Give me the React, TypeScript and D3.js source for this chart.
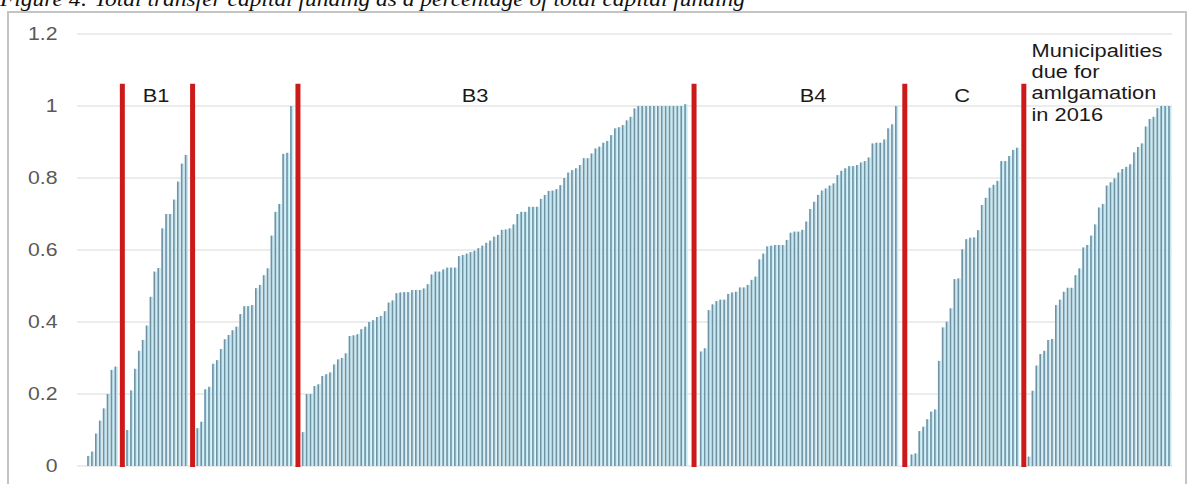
import React from "react";
import * as d3 from "d3";

// ---- Data ----
const metroValues = [0.028, 0.04, 0.09, 0.126, 0.16, 0.2, 0.267, 0.276];
const b1Values = [0.1, 0.21, 0.27, 0.32, 0.35, 0.39, 0.47, 0.54, 0.55, 0.66, 0.7, 0.7, 0.74, 0.79, 0.84, 0.864];
const b2Values = [0.105, 0.123, 0.213, 0.22, 0.284, 0.294, 0.325, 0.352, 0.364, 0.377, 0.387, 0.422, 0.444, 0.444, 0.447, 0.494, 0.503, 0.53, 0.549, 0.64, 0.706, 0.728, 0.867, 0.87, 1.0];
const b3Values = [
  0.094, 0.2, 0.2, 0.222, 0.227, 0.25, 0.255, 0.26, 0.282, 0.296, 0.3, 0.313, 0.361,
  0.363, 0.366, 0.38, 0.387, 0.4, 0.405, 0.414, 0.417, 0.43, 0.454, 0.46, 0.48, 0.482, 0.483, 0.483, 0.489,
  0.489, 0.489, 0.493, 0.505, 0.532, 0.54, 0.54, 0.546, 0.551, 0.551, 0.551, 0.583, 0.586, 0.59, 0.594,
  0.598, 0.605, 0.612, 0.62, 0.626, 0.637, 0.642, 0.656, 0.657, 0.66, 0.671, 0.7, 0.706, 0.706, 0.72,
  0.72, 0.72, 0.742, 0.753, 0.764, 0.765, 0.769, 0.78, 0.8, 0.815, 0.822, 0.827, 0.836, 0.855, 0.855,
  0.868, 0.882, 0.887, 0.898, 0.903, 0.919, 0.938, 0.941, 0.947,
  0.96, 0.97, 0.993, 1.0, 1.0, 1.0, 1.0, 1.0, 1.0, 1.0, 1.0, 1.0, 1.0, 1.0, 1.0, 1.005,
];
const b4Values = [
  0.318, 0.327, 0.433, 0.449, 0.458, 0.462, 0.462, 0.478, 0.482, 0.484, 0.496, 0.496, 0.503, 0.517, 0.526,
  0.574, 0.59, 0.61, 0.612, 0.614, 0.614, 0.614, 0.628, 0.648, 0.651, 0.651, 0.656, 0.679, 0.714, 0.734,
  0.753, 0.765, 0.771, 0.779, 0.785, 0.808, 0.82, 0.827, 0.833, 0.833, 0.836, 0.843, 0.847, 0.857, 0.896,
  0.898, 0.898, 0.907, 0.938, 0.949, 1.0,
];
const cValues = [
  0.032, 0.035, 0.097, 0.109, 0.13, 0.151, 0.157, 0.292, 0.385, 0.401, 0.438, 0.519, 0.521, 0.602, 0.63,
  0.634, 0.635, 0.655, 0.725, 0.745, 0.773, 0.781, 0.792, 0.847, 0.847, 0.861, 0.878, 0.884,
];
const amalgamationValues = [
  0.026, 0.209, 0.279, 0.311, 0.32, 0.35, 0.353, 0.447, 0.462, 0.484, 0.495, 0.495, 0.53, 0.549, 0.607,
  0.614, 0.64, 0.671, 0.718, 0.728, 0.779, 0.788, 0.799, 0.815, 0.825, 0.831, 0.838, 0.871, 0.886, 0.896,
  0.943, 0.964, 0.97, 0.994, 1.0, 1.0, 1.0,
];
const groupSeries = [metroValues, b1Values, b2Values, b3Values, b4Values, cValues, amalgamationValues];
// empty category slots between consecutive groups
const emptySlotsBetween = [2, 2, 2, 3, 3, 2];
const yTicks = [0, 0.2, 0.4, 0.6, 0.8, 1, 1.2];
const yTickLabels = ["0", "0.2", "0.4", "0.6", "0.8", "1", "1.2"];
const groupLabels = ["B1", "B3", "B4", "C"];
const noteLines = ["Municipalities", "due for", "amlgamation", "in 2016"];
const dividerTop = 1.062;
const titleText = "Figure 4: Total transfer capital funding as a percentage of total capital funding";

export default function App() {
  const W = 1197;
  const H = 484;

  type Slot = { i: number; v: number; g: number };
  const slots: Slot[] = [];
  const groupFirst: number[] = [];
  const groupLast: number[] = [];
  let idx = 0;
  groupSeries.forEach((vals, g) => {
    groupFirst.push(idx);
    vals.forEach((v) => slots.push({ i: idx++, v, g }));
    groupLast.push(idx - 1);
    if (g < emptySlotsBetween.length) idx += emptySlotsBetween[g];
  });
  const nSlots = idx;

  const x = d3.scaleBand<number>().domain(d3.range(nSlots)).range([86.05, 1170.95]).padding(0);
  const step = x.step();
  const cx = (i: number) => (x(i) as number) + step / 2;
  const y = d3.scaleLinear().domain([0, 1.2]).range([466, 34]);

  const plotLeft = 77;
  const plotRight = 1172;

  const dividers = groupSeries.slice(0, -1).map((_, g) => (cx(groupLast[g]) + cx(groupFirst[g + 1])) / 2 + 0.3 * step);

  const labelX: Record<string, number> = { B1: 156, B3: 475, B4: 813, C: 962 };
  const sx = 1.18;
  const fontFamily = "'Liberation Sans', Arial, sans-serif";

  return (
    <div>
      <style>{`body{margin:0;}`}</style>
      <svg width={W} height={H} style={{ display: "block", background: "#fff" }}>
        {/* title (cut off at top, as in the reference) */}
        <text
          x={0}
          y={5.8}
          fontFamily="'Liberation Serif', 'Times New Roman', serif"
          fontStyle="italic"
          fontSize={21}
          fill="#111"
          textLength={745}
          lengthAdjust="spacingAndGlyphs"
        >
          {titleText}
        </text>
        {/* chart frame */}
        <rect x={8} y={12} width={1178} height={490} fill="#fff" stroke="#c4c4c4" strokeWidth={2} />

        {/* gridlines */}
        {yTicks.map((t) => (
          <line key={t} x1={plotLeft} x2={plotRight} y1={y(t)} y2={y(t)} stroke="#d9d9d9" strokeWidth={1.2} />
        ))}

        {/* y tick labels */}
        {yTicks.map((t, k) => (
          <text
            key={"l" + t}
            transform={`translate(57.5,${y(t)}) scale(${sx},1)`}
            textAnchor="end"
            dy="0.35em"
            fontFamily={fontFamily}
            fontSize={18}
            fill="#595959"
          >
            {yTickLabels[k]}
          </text>
        ))}

        {/* bars */}
        {slots.map((s) => {
          const c = cx(s.i);
          const top = y(s.v);
          const h = y(0) - top;
          return (
            <g key={s.i}>
              <rect x={c - 0.8} y={top} width={step - 0.6} height={h} fill="#c4e9f2" />
              <rect x={c - 0.8} y={top} width={1.6} height={h} fill="#7292a4" />
            </g>
          );
        })}

        {/* red dividers */}
        {dividers.map((dx, k) => (
          <line key={"d" + k} x1={dx} x2={dx} y1={y(dividerTop)} y2={y(0) + 1} stroke="#cc1a1a" strokeWidth={5} />
        ))}

        {/* group labels */}
        {groupLabels.map((lab) => (
          <text
            key={lab}
            transform={`translate(${labelX[lab]},101.7) scale(${sx},1)`}
            textAnchor="middle"
            fontFamily={fontFamily}
            fontSize={18.5}
            fill="#1a1a1a"
          >
            {lab}
          </text>
        ))}

        {/* amalgamation note */}
        {noteLines.map((line, k) => (
          <text
            key={line}
            transform={`translate(1031.5,${56.7 + k * 21.3}) scale(${sx},1)`}
            fontFamily={fontFamily}
            fontSize={18.5}
            fill="#1a1a1a"
          >
            {line}
          </text>
        ))}
      </svg>
    </div>
  );
}
